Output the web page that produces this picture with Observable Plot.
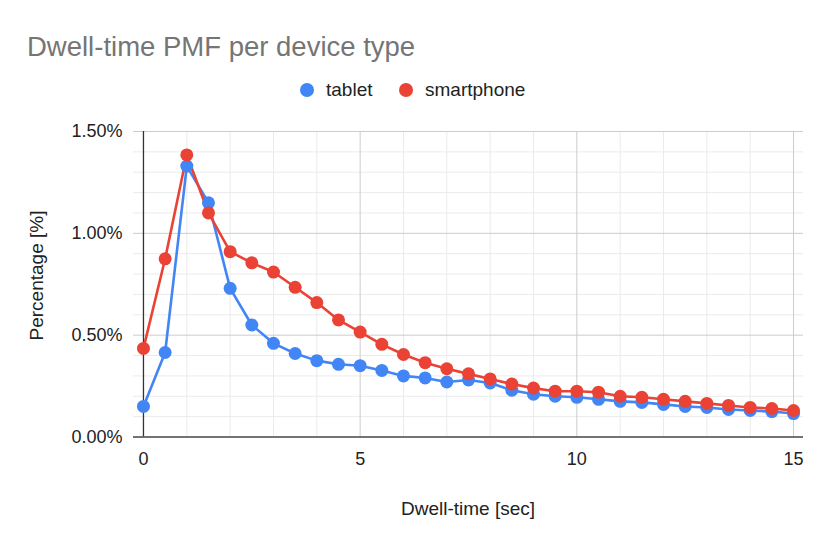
<!DOCTYPE html>
<html>
<head>
<meta charset="utf-8">
<script src="https://cdn.jsdelivr.net/npm/d3@7"></script>
<script src="https://cdn.jsdelivr.net/npm/@observablehq/plot@0.6"></script>
<style>
  html, body { margin: 0; padding: 0; background: #fff; }
  #wrap { position: relative; width: 830px; height: 547px; overflow: hidden; font-family: "Liberation Sans", Arial, sans-serif; }
  #wrap svg { position: absolute; left: 0; top: 0; }
  .txt { position: absolute; white-space: nowrap; }
  #title { left: 27px; top: 33px; font-size: 27.5px; line-height: 27.5px; color: #757575; }
  .leg { top: 80px; font-size: 19px; line-height: 19px; color: #222; }
  .dot { position: absolute; width: 14px; height: 14px; border-radius: 50%; top: 83px; }
  #ytitle { left: -114px; top: 266px; width: 300px; text-align: center; font-size: 19px; line-height: 19px; color: #222; transform: rotate(-90deg); }
  #xtitle { left: 318px; top: 499px; width: 300px; text-align: center; font-size: 19px; line-height: 19px; color: #222; }
</style>
</head>
<body>
<div id="wrap">
  <div id="title" class="txt">Dwell-time PMF per device type</div>
  <div class="dot" style="left:300px;background:#4285F4"></div>
  <div class="txt leg" style="left:326px">tablet</div>
  <div class="dot" style="left:399px;background:#EA4335"></div>
  <div class="txt leg" style="left:425px">smartphone</div>
  <div id="ytitle" class="txt">Percentage [%]</div>
  <div id="xtitle" class="txt">Dwell-time [sec]</div>
</div>
<script>
const dwellTime = [0, 0.5, 1, 1.5, 2, 2.5, 3, 3.5, 4, 4.5, 5, 5.5, 6, 6.5, 7, 7.5, 8, 8.5, 9, 9.5, 10, 10.5, 11, 11.5, 12, 12.5, 13, 13.5, 14, 14.5, 15];
const tablet = [0.15, 0.415, 1.33, 1.15, 0.73, 0.55, 0.46, 0.41, 0.375, 0.357, 0.35, 0.327, 0.30, 0.29, 0.27, 0.28, 0.265, 0.23, 0.21, 0.20, 0.195, 0.185, 0.175, 0.17, 0.16, 0.15, 0.145, 0.135, 0.13, 0.125, 0.115];
const smartphone = [0.435, 0.875, 1.385, 1.10, 0.91, 0.855, 0.81, 0.735, 0.66, 0.575, 0.515, 0.455, 0.405, 0.365, 0.335, 0.31, 0.285, 0.26, 0.24, 0.225, 0.225, 0.22, 0.20, 0.195, 0.185, 0.175, 0.165, 0.155, 0.145, 0.14, 0.13];
const seriesNames = ["tablet", "smartphone"];
const seriesColors = ["#4285F4", "#EA4335"];
const xTicks = [0, 5, 10, 15];
const xMinorTicks = [1, 2, 3, 4, 6, 7, 8, 9, 11, 12, 13, 14];
const yTicks = [0, 0.5, 1.0, 1.5];
const yMinorTicks = [0.1, 0.2, 0.3, 0.4, 0.6, 0.7, 0.8, 0.9, 1.1, 1.2, 1.3, 1.4];

const tabletData = dwellTime.map((t, i) => ({t, v: tablet[i], s: seriesNames[0]}));
const phoneData = dwellTime.map((t, i) => ({t, v: smartphone[i], s: seriesNames[1]}));

const chart = Plot.plot({
  width: 830,
  height: 547,
  marginLeft: 133,
  marginRight: 27,
  marginTop: 131,
  marginBottom: 110.5,
  style: { fontFamily: "'Liberation Sans', Arial, sans-serif", fontSize: "18px", color: "#222", background: "transparent" },
  x: { domain: [-0.23, 15.23], ticks: xTicks, tickSize: 0, tickPadding: 15, tickFormat: d => String(d), label: null },
  y: { domain: [0, 1.5], ticks: yTicks, tickSize: 0, tickPadding: 11, tickFormat: d => d.toFixed(2) + "%", label: null },
  color: { domain: seriesNames, range: seriesColors },
  marks: [
    Plot.ruleX(xMinorTicks, { stroke: "#ebebeb", strokeWidth: 1 }),
    Plot.ruleY(yMinorTicks, { stroke: "#ebebeb", strokeWidth: 1 }),
    Plot.ruleX(xTicks.filter(d => d !== 0), { stroke: "#cccccc", strokeWidth: 1 }),
    Plot.ruleY(yTicks.filter(d => d !== 0), { stroke: "#cccccc", strokeWidth: 1 }),
    Plot.ruleX([0], { stroke: "#333", strokeWidth: 1.3 }),
    Plot.ruleY([0], { stroke: "#444", strokeWidth: 1.5 }),
    Plot.line(tabletData, { x: "t", y: "v", stroke: seriesColors[0], strokeWidth: 2.6 }),
    Plot.line(phoneData, { x: "t", y: "v", stroke: seriesColors[1], strokeWidth: 2.6 }),
    Plot.dot(tabletData, { x: "t", y: "v", r: 6.5, fill: seriesColors[0], stroke: "none" }),
    Plot.dot(phoneData, { x: "t", y: "v", r: 6.5, fill: seriesColors[1], stroke: "none" })
  ]
});
document.getElementById("wrap").prepend(chart);
</script>
</body>
</html>
